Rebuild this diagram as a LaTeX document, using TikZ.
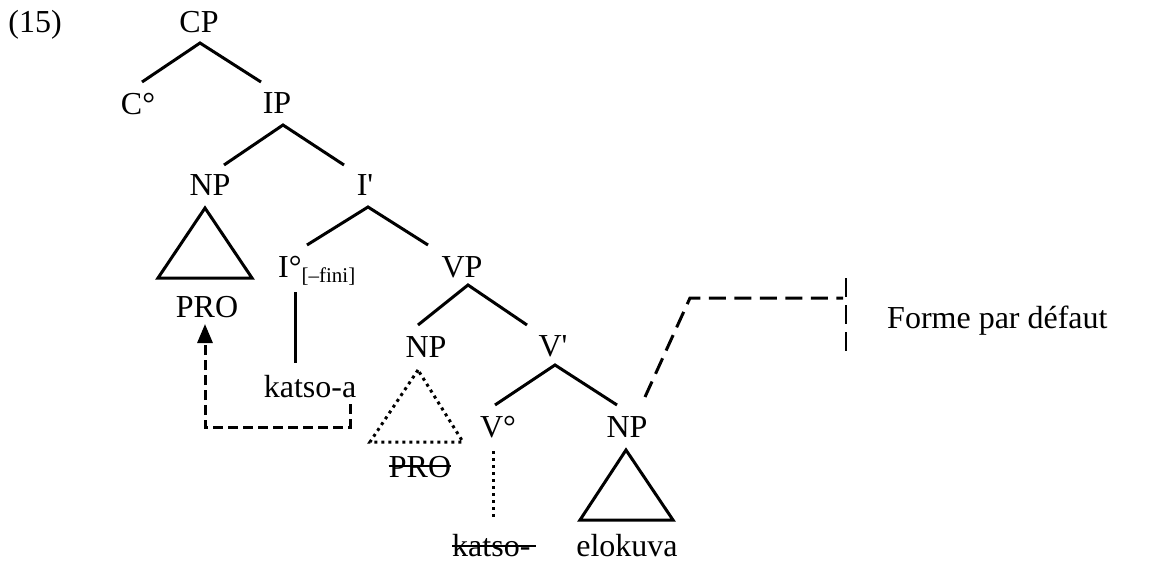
\documentclass[tikz,border=0pt]{standalone}
\usepackage{fontspec}
\setmainfont{Liberation Serif}
\usetikzlibrary{arrows.meta}
\begin{document}
\begin{tikzpicture}[x=1pt,y=-1pt,
  lbl/.style={inner sep=0pt,anchor=base,font=\fontsize{32}{36}\selectfont},
  branch/.style={line width=3pt},
  dotline/.style={line width=3pt,dash pattern=on 3pt off 4pt},
  dashline/.style={line width=3pt,dash pattern=on 17pt off 8.5pt},
  arrline/.style={line width=3pt,dash pattern=on 10pt off 5pt},
  strike/.style={line width=2.2pt}]
\useasboundingbox (0,0) rectangle (1170,564);
% labels
\node[lbl] (ex) at (35,33) {(15)};
\node[lbl] (CP) at (199,33) {CP};
\node[lbl] (C0) at (138,115) {C°};
\node[lbl] (IP) at (277,114) {IP};
\node[lbl] (NPa) at (210,196) {NP};
\node[lbl] (Ib) at (365,196) {I\textquotesingle};
\node[lbl] (PROa) at (207,317) {PRO};
\node[lbl,anchor=base west] (I0) at (278,277) {I°\raisebox{-5pt}{\fontsize{21}{22}\selectfont[–fini]}};
\node[lbl] (katsoa) at (310,397) {katso-a};
\node[lbl] (VP) at (462,277) {VP};
\node[lbl] (NPb) at (426,357) {NP};
\node[lbl] (Vb) at (553,356) {V\textquotesingle};
\node[lbl] (PROb) at (420,477) {PRO};
\node[lbl] (V0) at (498,437) {V°};
\node[lbl] (NPc) at (627,437) {NP};
\node[lbl,anchor=base west] (katso) at (452,556) {katso-};
\node[lbl] (elo) at (627,556) {elokuva};
\node[lbl,anchor=base west] (forme) at (887,328) {Forme par défaut};
% joints
\coordinate (cp) at (200,43);
\coordinate (cpL) at (142,82);
\coordinate (cpR) at (261,82);
\coordinate (ip) at (283,125);
\coordinate (ipL) at (224,165);
\coordinate (ipR) at (344,165);
\coordinate (ib) at (368,207);
\coordinate (ibL) at (307,245);
\coordinate (ibR) at (428,245);
\coordinate (vp) at (468,285);
\coordinate (vpL) at (418,325);
\coordinate (vpR) at (527,325);
\coordinate (vb) at (555,365);
\coordinate (vbL) at (495,405);
\coordinate (vbR) at (617,405);
\coordinate (i0t) at (295,292);
\coordinate (i0b) at (295,363);
\coordinate (v0t) at (493,451);
\coordinate (v0b) at (493,517);
% branches
\draw[branch] (cpL) -- (cp) -- (cpR);
\draw[branch] (ipL) -- (ip) -- (ipR);
\draw[branch] (ibL) -- (ib) -- (ibR);
\draw[branch] (vpL) -- (vp) -- (vpR);
\draw[branch] (vbL) -- (vb) -- (vbR);
\draw[branch] (i0t) -- (i0b);
\draw[dotline] (v0t) -- (v0b);
% triangles
\draw[branch,line join=miter] (205,208) -- (158,278) -- (252,278) -- cycle;
\draw[branch,line join=miter] (626,450) -- (580,520) -- (673,520) -- cycle;
\draw[dotline] (418,370) -- (370,442) -- (463,442) -- cycle;
% strike-throughs
\draw[strike] ([yshift=11pt]PROb.base west) -- ([yshift=11pt]PROb.base east);
\draw[strike] ([yshift=10pt]katso.base west) -- ([xshift=5pt,yshift=10pt]katso.base east);
% dashed arrow katso-a -> PRO
\coordinate (ka) at (350,404);
\coordinate (kb) at (350,427);
\coordinate (kc) at (205,427);
\coordinate (pro) at (205,324);
\draw[arrline,-{Triangle[length=19pt,width=15pt]}] (ka) -- (kb) -- (kc) -- (pro);
% dashed line to default form
\coordinate (np3) at (645,397);
\coordinate (dk) at (690,298);
\coordinate (dh) at (843,298);
\coordinate (tickT) at (846,278);
\coordinate (tickB) at (846,351);
\draw[dashline] (np3) -- (dk) -- (dh);
\draw[line width=2.6pt,dash pattern=on 19pt off 8pt] (tickT) -- (tickB);
\end{tikzpicture}
\end{document}
